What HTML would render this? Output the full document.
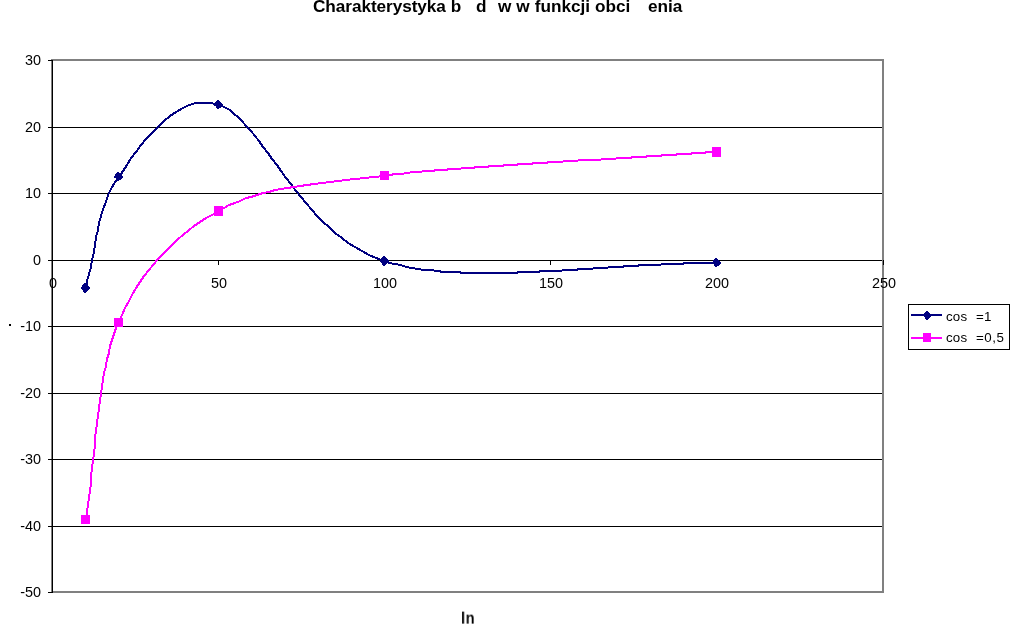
<!DOCTYPE html>
<html><head><meta charset="utf-8"><title>Chart</title>
<style>
html,body{margin:0;padding:0;background:#fff;}
body{width:1010px;height:628px;position:relative;overflow:hidden;font-family:"Liberation Sans",sans-serif;}
.t{position:absolute;font-size:13.33px;line-height:16px;color:#000;white-space:pre;will-change:transform;font-family:"Liberation Sans",sans-serif;}
.a{font-size:14.4px;line-height:18px;}
.b{font-weight:bold;font-size:17.2px;line-height:20px;word-spacing:0.2px;}
.c{font-weight:bold;font-size:16px;line-height:18px;letter-spacing:0.7px;transform:translate(0,0.6px) scaleX(0.9);transform-origin:0 0;}
.l{letter-spacing:0.15px;}
</style></head><body>
<svg width="1010" height="628" viewBox="0 0 1010 628" style="position:absolute;left:0;top:0">
<g shape-rendering="crispEdges" stroke="#000" stroke-width="1">
<line x1="52" y1="127.5" x2="883" y2="127.5"/>
<line x1="52" y1="193.5" x2="883" y2="193.5"/>
<line x1="52" y1="260.5" x2="883" y2="260.5"/>
<line x1="52" y1="326.5" x2="883" y2="326.5"/>
<line x1="52" y1="393.5" x2="883" y2="393.5"/>
<line x1="52" y1="459.5" x2="883" y2="459.5"/>
<line x1="52" y1="526.5" x2="883" y2="526.5"/>
</g>
<rect x="52" y="60" width="831" height="532" fill="none" stroke="#808080" stroke-width="2" shape-rendering="crispEdges"/>
<rect x="52" y="60" width="1" height="533" fill="#000" shape-rendering="crispEdges"/>
<g shape-rendering="crispEdges" stroke="#000" stroke-width="1">
<line x1="48" y1="60.5" x2="52" y2="60.5"/>
<line x1="48" y1="127.5" x2="52" y2="127.5"/>
<line x1="48" y1="193.5" x2="52" y2="193.5"/>
<line x1="48" y1="260.5" x2="52" y2="260.5"/>
<line x1="48" y1="326.5" x2="52" y2="326.5"/>
<line x1="48" y1="393.5" x2="52" y2="393.5"/>
<line x1="48" y1="459.5" x2="52" y2="459.5"/>
<line x1="48" y1="526.5" x2="52" y2="526.5"/>
<line x1="48" y1="592.5" x2="52" y2="592.5"/>
<line x1="52.5" y1="260" x2="52.5" y2="265"/>
<line x1="218.5" y1="260" x2="218.5" y2="265"/>
<line x1="384.5" y1="260" x2="384.5" y2="265"/>
<line x1="550.5" y1="260" x2="550.5" y2="265"/>
<line x1="716.5" y1="260" x2="716.5" y2="265"/>
<line x1="883.5" y1="260" x2="883.5" y2="265"/>
</g>
<path d="M86 289 L87 281 L89 274 L91 267 L92 260 L94 252 L95 245 L96 237 L98 230 L99 223 L101 216 L103 209 L106 202 L108 195 L111 189 L115 182 L119 177 L123 171 L127 165 L131 158 L136 152 L141 145 L146 139 L152 133 L158 127 L164 121 L170 116 L176 112 L183 108 L189 105 L196 103 L204 103 L211 103 L219 105 L218 104 L222 106 L226 108 L230 110 L234 114 L238 117 L242 121 L246 126 L251 131 L255 136 L259 141 L263 147 L268 153 L272 159 L277 165 L281 171 L286 178 L291 184 L296 191 L301 197 L306 203 L312 210 L317 216 L323 222 L329 227 L335 233 L342 238 L348 243 L355 247 L362 251 L369 255 L376 258 L384 261 L389 263 L395 264 L401 265 L406 267 L412 268 L418 269 L424 270 L431 270 L437 271 L444 272 L450 272 L457 272 L464 273 L471 273 L478 273 L485 273 L492 273 L499 273 L506 273 L514 273 L521 272 L528 272 L536 272 L543 271 L551 271 L558 271 L566 270 L574 270 L581 269 L589 269 L597 268 L604 268 L612 267 L620 267 L627 266 L635 266 L642 265 L650 265 L657 265 L665 264 L672 264 L680 264 L687 263 L694 263 L702 263 L709 263 L716 263" fill="none" stroke="#000080" stroke-width="2" shape-rendering="crispEdges" stroke-linejoin="round"/>
<path d="M86 520 L87 512 L88 505 L89 498 L90 491 L91 483 L91 476 L92 468 L93 461 L94 453 L95 446 L95 438 L96 431 L97 423 L98 416 L99 408 L100 401 L101 394 L102 387 L103 379 L104 373 L106 366 L107 359 L109 353 L110 346 L112 340 L114 334 L116 328 L119 323 L122 315 L125 308 L129 301 L132 295 L136 288 L140 282 L144 276 L149 270 L153 265 L158 259 L163 254 L168 249 L173 244 L178 239 L183 235 L189 230 L194 226 L200 222 L206 218 L212 215 L219 211 L224 208 L229 205 L235 203 L240 201 L246 198 L251 197 L257 195 L263 193 L269 192 L275 190 L281 189 L287 188 L294 187 L300 186 L307 185 L314 184 L322 183 L330 182 L338 181 L346 180 L355 179 L365 178 L374 177 L385 176 L390 175 L395 174 L401 174 L407 173 L413 172 L419 172 L425 171 L431 171 L438 170 L444 170 L451 169 L458 169 L464 168 L471 168 L478 167 L485 167 L492 166 L500 166 L507 165 L514 165 L521 164 L529 164 L536 163 L544 163 L551 162 L559 162 L567 161 L574 161 L582 160 L589 160 L597 160 L605 159 L612 159 L620 158 L628 158 L635 157 L643 157 L650 156 L658 156 L665 155 L673 155 L680 154 L688 154 L695 153 L702 153 L709 152 L717 152" fill="none" stroke="#ff00ff" stroke-width="2" shape-rendering="crispEdges" stroke-linejoin="round"/>
<g shape-rendering="crispEdges">
<rect x="84" y="283" width="2" height="1" fill="#000080"/><rect x="83" y="284" width="4" height="1" fill="#000080"/><rect x="82" y="285" width="6" height="1" fill="#000080"/><rect x="82" y="286" width="7" height="1" fill="#000080"/><rect x="81" y="287" width="9" height="1" fill="#000080"/><rect x="81" y="288" width="9" height="1" fill="#000080"/><rect x="82" y="289" width="7" height="1" fill="#000080"/><rect x="83" y="290" width="5" height="1" fill="#000080"/><rect x="83" y="291" width="4" height="1" fill="#000080"/><rect x="84" y="292" width="2" height="1" fill="#000080"/>
<rect x="117" y="172" width="2" height="1" fill="#000080"/><rect x="116" y="173" width="4" height="1" fill="#000080"/><rect x="115" y="174" width="6" height="1" fill="#000080"/><rect x="115" y="175" width="7" height="1" fill="#000080"/><rect x="114" y="176" width="9" height="1" fill="#000080"/><rect x="114" y="177" width="9" height="1" fill="#000080"/><rect x="116" y="178" width="6" height="1" fill="#000080"/><rect x="116" y="179" width="5" height="1" fill="#000080"/><rect x="117" y="180" width="2" height="1" fill="#000080"/>
<rect x="217" y="100" width="2" height="1" fill="#000080"/><rect x="216" y="101" width="4" height="1" fill="#000080"/><rect x="215" y="102" width="6" height="1" fill="#000080"/><rect x="215" y="103" width="7" height="1" fill="#000080"/><rect x="214" y="104" width="9" height="1" fill="#000080"/><rect x="214" y="105" width="9" height="1" fill="#000080"/><rect x="216" y="106" width="6" height="1" fill="#000080"/><rect x="216" y="107" width="5" height="1" fill="#000080"/><rect x="217" y="108" width="2" height="1" fill="#000080"/>
<rect x="383" y="256" width="2" height="1" fill="#000080"/><rect x="382" y="257" width="4" height="1" fill="#000080"/><rect x="381" y="258" width="6" height="1" fill="#000080"/><rect x="381" y="259" width="7" height="1" fill="#000080"/><rect x="380" y="260" width="9" height="1" fill="#000080"/><rect x="380" y="261" width="9" height="1" fill="#000080"/><rect x="381" y="262" width="7" height="1" fill="#000080"/><rect x="382" y="263" width="5" height="1" fill="#000080"/><rect x="382" y="264" width="4" height="1" fill="#000080"/><rect x="383" y="265" width="2" height="1" fill="#000080"/>
<rect x="715" y="258" width="2" height="1" fill="#000080"/><rect x="714" y="259" width="4" height="1" fill="#000080"/><rect x="713" y="260" width="6" height="1" fill="#000080"/><rect x="713" y="261" width="7" height="1" fill="#000080"/><rect x="712" y="262" width="9" height="1" fill="#000080"/><rect x="712" y="263" width="9" height="1" fill="#000080"/><rect x="714" y="264" width="6" height="1" fill="#000080"/><rect x="714" y="265" width="5" height="1" fill="#000080"/><rect x="715" y="266" width="2" height="1" fill="#000080"/>
<rect x="81" y="515" width="9" height="9" fill="#ff00ff"/>
<rect x="114" y="318" width="9" height="9" fill="#ff00ff"/>
<rect x="214" y="206" width="9" height="10" fill="#ff00ff"/>
<rect x="380" y="171" width="9" height="9" fill="#ff00ff"/>
<rect x="712" y="147" width="9" height="10" fill="#ff00ff"/>
<rect x="908.5" y="304.5" width="101" height="45" fill="#fff" stroke="#000" stroke-width="1"/>
<rect x="911" y="314" width="31" height="2" fill="#000080"/>
<rect x="911" y="337" width="31" height="2" fill="#ff00ff"/>
<rect x="926" y="311" width="2" height="1" fill="#000080"/><rect x="925" y="312" width="4" height="1" fill="#000080"/><rect x="924" y="313" width="6" height="1" fill="#000080"/><rect x="924" y="314" width="7" height="1" fill="#000080"/><rect x="924" y="315" width="7" height="1" fill="#000080"/><rect x="924" y="316" width="7" height="1" fill="#000080"/><rect x="925" y="317" width="5" height="1" fill="#000080"/><rect x="925" y="318" width="4" height="1" fill="#000080"/><rect x="926" y="319" width="2" height="1" fill="#000080"/>
<rect x="923" y="333" width="8" height="9" fill="#ff00ff"/>
<rect x="9" y="324" width="2" height="2" fill="#000"/>
</g>
</svg>
<div class="t a" style="top:51.4px;left:-158.9px;width:200px;text-align:right;">30</div>
<div class="t a" style="top:118.4px;left:-158.9px;width:200px;text-align:right;">20</div>
<div class="t a" style="top:184.4px;left:-158.9px;width:200px;text-align:right;">10</div>
<div class="t a" style="top:251.4px;left:-158.9px;width:200px;text-align:right;">0</div>
<div class="t a" style="top:317.4px;left:-158.9px;width:200px;text-align:right;">-10</div>
<div class="t a" style="top:384.4px;left:-158.9px;width:200px;text-align:right;">-20</div>
<div class="t a" style="top:450.4px;left:-158.9px;width:200px;text-align:right;">-30</div>
<div class="t a" style="top:517.4px;left:-158.9px;width:200px;text-align:right;">-40</div>
<div class="t a" style="top:583.4px;left:-158.9px;width:200px;text-align:right;">-50</div>
<div class="t a" style="top:273.6px;left:-47.3px;width:200px;text-align:center;">0</div>
<div class="t a" style="top:273.6px;left:118.69999999999999px;width:200px;text-align:center;">50</div>
<div class="t a" style="top:273.6px;left:284.7px;width:200px;text-align:center;">100</div>
<div class="t a" style="top:273.6px;left:450.70000000000005px;width:200px;text-align:center;">150</div>
<div class="t a" style="top:273.6px;left:616.7px;width:200px;text-align:center;">200</div>
<div class="t a" style="top:273.6px;left:783.7px;width:200px;text-align:center;">250</div>
<div class="t b" style="top:-3.8px;left:312.6px;letter-spacing:-0.06px;">Charakterystyka b</div>
<div class="t b" style="top:-3.8px;left:476px;">d</div>
<div class="t b" style="top:-3.8px;left:497.8px;">w w funkcji obci</div>
<div class="t b" style="top:-3.8px;left:648px;">enia</div>
<div class="t c" style="top:609.0px;left:461.3px;">In</div>
<div class="t l" style="top:309.3px;left:945.7px;">cos</div>
<div class="t l" style="top:309.3px;left:976.3px;">=1</div>
<div class="t l" style="top:330.3px;left:945.7px;">cos</div>
<div class="t l" style="top:330.3px;left:976.3px;letter-spacing:0.55px;">=0,5</div>
</body></html>
